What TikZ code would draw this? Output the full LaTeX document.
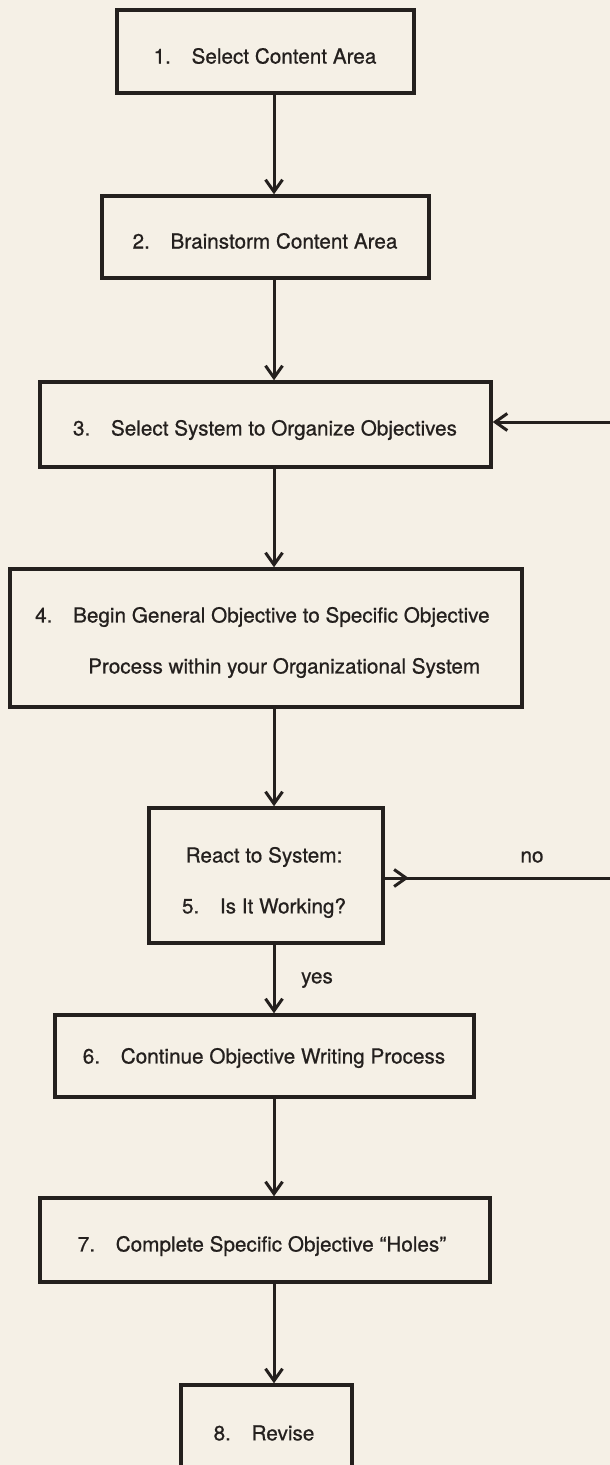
\documentclass[tikz,border=0pt]{standalone}
\usepackage{fontspec}
\setmainfont{TeX Gyre Heros}
\newfontfamily\medfont{TeX Gyre Heros}[FakeBold=0.7]
\usetikzlibrary{arrows.meta}
\definecolor{paper}{RGB}{245,240,230}
\definecolor{ink}{RGB}{36,32,30}
\tikzset{
  box/.style={draw=ink, line width=3.4pt, rectangle, inner sep=0pt, text=ink},
  lbl/.style={inner sep=0pt, text=ink, font=\medfont\fontsize{20.7}{24}\selectfont},
  conn/.style={draw=ink, line width=3pt},
  arr/.style={conn, -{Straight Barb[length=12pt,width=17pt]}},
}
\begin{document}
\begin{tikzpicture}[x=1pt,y=-1pt]
\useasboundingbox (0,0) rectangle (610,1465);
\fill[paper] (0,0) rectangle (610,1465);
\clip (0,0) rectangle (610,1465);
\coordinate (ax) at (274,0);

% boxes
\node[box, minimum width=297pt, minimum height=83pt] (b1) at (265.5,51.5) {};
\node[lbl] (t1) at (265,56) {1.\quad Select Content Area};

\node[box, minimum width=327pt, minimum height=82pt] (b2) at (265.5,237) {};
\node[lbl] (t2) at (265,241) {2.\quad Brainstorm Content Area};

\node[box, minimum width=451pt, minimum height=85pt] (b3) at (265.5,424.5) {};
\node[lbl] (t3) at (265,430) {3.\quad Select System to Organize Objectives};

\node[box, minimum width=512pt, minimum height=138pt] (b4) at (266,638) {};
\node[lbl, anchor=west] (t4a) at (35,617) {4.\quad Begin General Objective to Specific Objective};
\node[lbl, anchor=west] (t4b) at (88,668) {Process within your Organizational System};

\node[box, minimum width=234pt, minimum height=135pt] (b5) at (266,875.5) {};
\node[lbl] (t5a) at (264,857) {React to System:};
\node[lbl] (t5b) at (264,908) {5.\quad Is It Working?};

\node[box, minimum width=419pt, minimum height=82pt] (b6) at (264.5,1056) {};
\node[lbl] (t6) at (264,1058) {6.\quad Continue Objective Writing Process};

\node[box, minimum width=450pt, minimum height=84pt] (b7) at (265,1240) {};
\node[lbl] (t7) at (262,1246) {7.\quad Complete Specific Objective “Holes”};

\node[box, minimum width=171pt, minimum height=95pt] (b8) at (266.5,1432.5) {};
\node[lbl] (t8) at (264,1433) {8.\quad Revise};

% labels
\node[lbl] (no) at (532,857) {no};
\node[lbl] (yes) at (317,980) {yes};

% connectors
\draw[arr] (b1.south -| ax) -- (b2.north -| ax);
\draw[arr] (b2.south -| ax) -- (b3.north -| ax);
\draw[arr] (b3.south -| ax) -- (b4.north -| ax);
\draw[arr] (b4.south -| ax) -- (b5.north -| ax);
\draw[arr] (b5.south -| ax) -- (b6.north -| ax);
\draw[arr] (b6.south -| ax) -- (b7.north -| ax);
\draw[arr] (b7.south -| ax) -- (b8.north -| ax);

% feedback loop (continues off the page)
\coordinate (fr3) at (612,422);
\coordinate (fr5) at (612,878);
\draw[arr] (fr3) -- (b3.east |- fr3);
\draw[conn] (b5.east |- fr5) -- (fr5);
\draw[arr] (b5.east |- fr5) -- ++(24,0);
\end{tikzpicture}
\end{document}
